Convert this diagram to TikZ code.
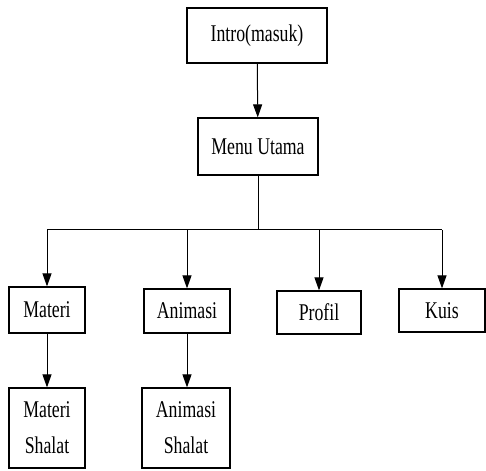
\documentclass[tikz,border=0pt]{standalone}
\usepackage{fontspec}
\newfontfamily\boxfont[FakeStretch=0.74]{Liberation Serif}
\usetikzlibrary{arrows.meta}

\begin{document}
\begin{tikzpicture}[x=1pt,y=1pt]
		\tikzset{menubox/.style={draw,line width=1.2pt,inner sep=0pt,align=center,font=\boxfont\fontsize{24}{36}\selectfont},
			flowarrow/.style={-{Triangle[length=13pt,width=9pt]},line width=1pt}};
		\useasboundingbox (0,0) rectangle (486,470);
		\node[menubox,minimum width=140,minimum height=55] (intro) at (257,434.5) {Intro(masuk)};
		\node[menubox,minimum width=120,minimum height=57] (menu) at (258,323.5) {Menu Utama};
		\node[menubox,minimum width=76,minimum height=46] (materi) at (47,160) {Materi};
		\node[menubox,minimum width=86,minimum height=44] (animasi) at (187,159) {Animasi};
		\node[menubox,minimum width=84,minimum height=43] (profil) at (319,157.5) {Profil};
		\node[menubox,minimum width=86,minimum height=43] (kuis) at (442,159.5) {Kuis};
		\node[menubox,minimum width=76,minimum height=80] (materishalat) at (47,42) {Materi\\Shalat};
		\node[menubox,minimum width=88,minimum height=80] (animasishalat) at (186,42) {Animasi\\Shalat};
		\coordinate (split) at (258,240);
		
		\draw[flowarrow] (intro) -- (menu);
		\draw[line width=1pt] (menu) -- (split);
		\draw[line width=1pt] (split -| materi) -- (split -| kuis);
		\draw[flowarrow] (split -| materi) -- (materi);
		\draw[flowarrow] (split -| animasi) -- (animasi);
		\draw[flowarrow] (split -| profil) -- (profil);
		\draw[flowarrow] (split -| kuis) -- (kuis);
		\draw[flowarrow] (materi) -- (materishalat);
		\draw[flowarrow] (animasi.south) -- (animasi.south |- animasishalat.north);
	\end{tikzpicture}
\end{document}
